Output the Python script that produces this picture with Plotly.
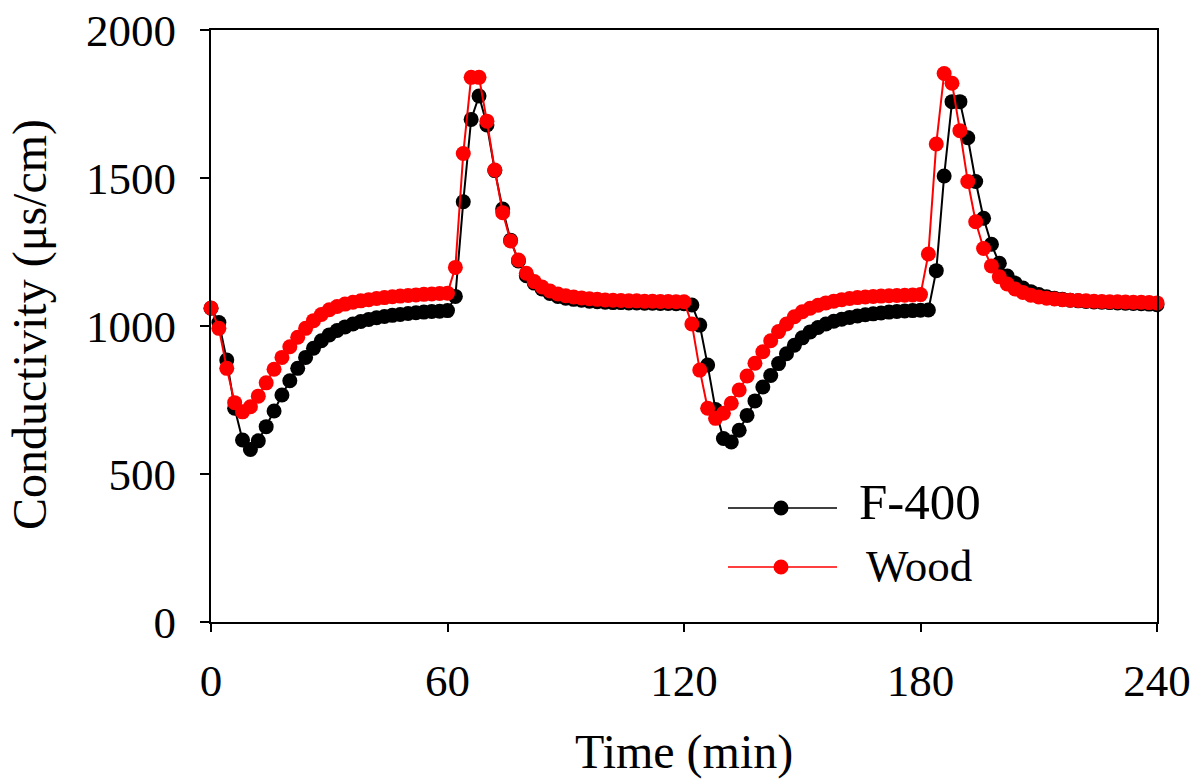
import plotly.graph_objects as go

time_min = list(range(0, 241, 2))

f400 = [
    1060, 1012, 885, 722, 615, 583, 612, 660, 713, 767,
    815, 857, 894, 925, 950, 970, 985, 997, 1007, 1015,
    1022, 1028, 1032, 1036, 1039, 1042, 1045, 1047, 1049, 1050,
    1052, 1100, 1420, 1698, 1777, 1679, 1525, 1395, 1290, 1220,
    1170, 1145, 1125, 1110, 1100, 1094, 1090, 1087, 1084, 1082,
    1080, 1079, 1079, 1078, 1078, 1077, 1077, 1076, 1076, 1075,
    1075, 1071, 1003, 868, 718, 620, 608, 648, 698, 747,
    794, 833, 873, 906, 935, 960, 980, 995, 1007, 1016,
    1023, 1029, 1034, 1038, 1041, 1044, 1047, 1049, 1051, 1052,
    1053, 1054, 1187, 1507, 1758, 1758, 1636, 1488, 1364, 1276,
    1212, 1169, 1145, 1128, 1116, 1106, 1099, 1094, 1090, 1087,
    1085, 1083, 1081, 1080, 1079, 1078, 1077, 1076, 1075, 1074,
    1072,
]

wood = [
    1061, 992, 857, 741, 710, 727, 763, 808, 854, 894,
    930, 962, 992, 1018, 1039, 1055, 1066, 1074, 1080, 1085,
    1089, 1093, 1096, 1099, 1101, 1103, 1105, 1107, 1108, 1110,
    1111, 1198, 1583, 1840, 1840, 1692, 1527, 1383, 1287, 1223,
    1178, 1150, 1132, 1118, 1108, 1102, 1098, 1095, 1092, 1090,
    1088, 1087, 1086, 1085, 1085, 1084, 1084, 1083, 1083, 1082,
    1082, 1007, 851, 722, 688, 705, 739, 784, 831, 874,
    913, 950, 981, 1007, 1031, 1048, 1060, 1070, 1078, 1084,
    1089, 1093, 1096, 1098, 1100, 1101, 1102, 1103, 1104, 1105,
    1106, 1243, 1615, 1853, 1820, 1660, 1488, 1352, 1262, 1203,
    1166, 1142, 1125, 1113, 1104, 1098, 1094, 1091, 1089, 1087,
    1086, 1085, 1084, 1083, 1082, 1082, 1081, 1080, 1080, 1079,
    1078,
]

x_ticks = [0, 60, 120, 180, 240]
y_ticks = [0, 500, 1000, 1500, 2000]
series_names = ["F-400", "Wood"]
series_colors = ["#000000", "#ff0000"]

FONT = "Liberation Serif, Times New Roman, serif"

fig = go.Figure()
for name, vals, col in zip(series_names, [f400, wood], series_colors):
    fig.add_trace(go.Scatter(
        x=time_min, y=vals, name=name, mode="lines+markers",
        line=dict(color=col, width=2),
        marker=dict(color=col, size=15, line=dict(width=0)),
        cliponaxis=False, showlegend=False,
    ))

axis_common = dict(
    showline=True, linecolor="black", linewidth=2, mirror=True,
    ticks="outside", tickcolor="black", tickwidth=2,
    showgrid=False, zeroline=False,
    tickfont=dict(family=FONT, size=45, color="black"),
)

fig.update_xaxes(range=[0, 240], tickvals=x_ticks, ticklen=8,
                 ticklabelstandoff=10, **axis_common)
fig.update_yaxes(range=[0, 2000], tickvals=y_ticks, ticklen=9,
                 ticklabelstandoff=15, **axis_common)

annotations = [
    dict(text="Time (min)", xref="paper", yref="paper", x=(684 - 211) / 946, y=(622 - 752) / 592,
         xanchor="center", yanchor="middle", showarrow=False,
         font=dict(family=FONT, size=48, color="black")),
    dict(text="Conductivity (μs/cm)", xref="paper", yref="paper", x=(30 - 211) / 946, y=(622 - 325) / 592,
         xanchor="center", yanchor="middle", showarrow=False, textangle=-90,
         font=dict(family=FONT, size=48, color="black")),
    dict(text="F-400", xref="paper", yref="paper", x=(857 - 211) / 946, y=(622 - 502) / 592,
         xanchor="left", yanchor="middle", showarrow=False,
         font=dict(family=FONT, size=51, color="black")),
    dict(text="Wood", xref="paper", yref="paper", x=(864 - 211) / 946, y=(622 - 566) / 592,
         xanchor="left", yanchor="middle", showarrow=False,
         font=dict(family=FONT, size=45, color="black")),
]

shapes = []
legend_rows = [(508, "#000000", 1.5), (567, "#ff0000", 1.5)]
for ypx, col, w in legend_rows:
    yp = (622 - ypx) / 592
    shapes.append(dict(type="line", xref="paper", yref="paper",
                       x0=(728 - 211) / 946, x1=(837 - 211) / 946, y0=yp, y1=yp,
                       line=dict(color=col, width=w)))
    cx = (781 - 211) / 946
    rx = 7.5 / 946
    ry = 7.5 / 592
    shapes.append(dict(type="circle", xref="paper", yref="paper",
                       x0=cx - rx, x1=cx + rx, y0=yp - ry, y1=yp + ry,
                       fillcolor=col, line=dict(color=col, width=0)))

fig.update_layout(
    width=1196, height=783,
    margin=dict(l=211, r=39, t=30, b=161, autoexpand=False),
    paper_bgcolor="white", plot_bgcolor="white",
    annotations=annotations, shapes=shapes,
    showlegend=False,
)

fig.write_html(
    "out.html",
    config={"displayModeBar": False},
    post_script="document.body.style.margin='0';document.body.style.padding='0';document.body.style.overflow='hidden';",
)
